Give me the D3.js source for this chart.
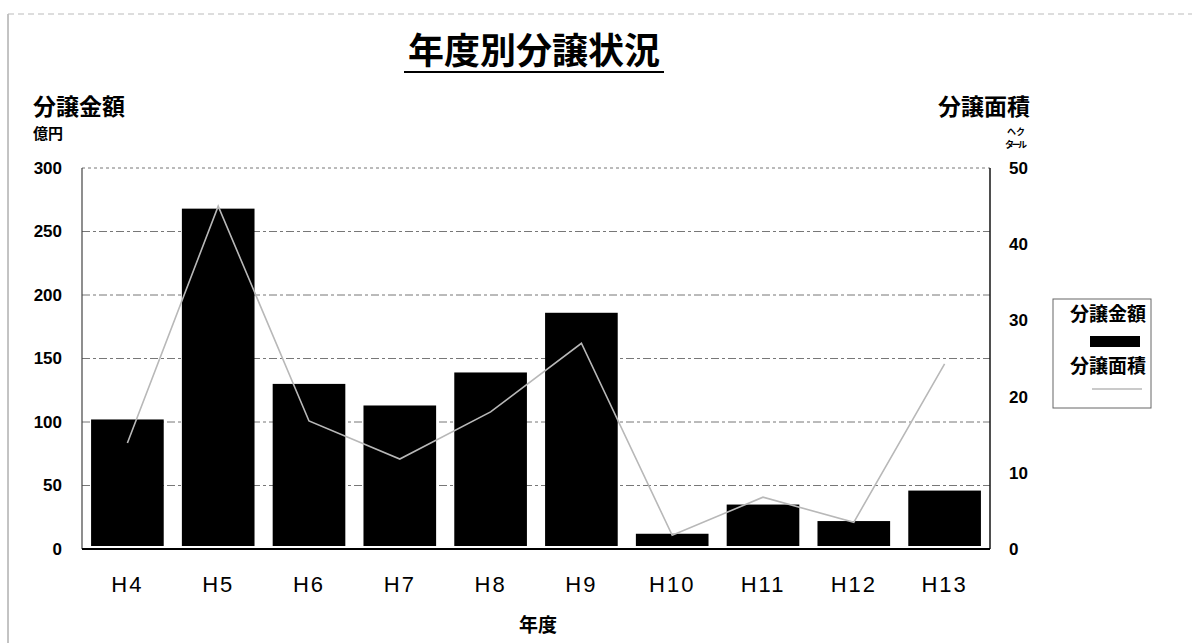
<!DOCTYPE html>
<html><head><meta charset="utf-8">
<script src="https://cdn.jsdelivr.net/npm/d3@7"></script>
<style>body{margin:0;background:#fff}svg{display:block}</style>
</head><body>
<svg id="c" width="1192" height="643"></svg>
<script>
const categories = ["H4","H5","H6","H7","H8","H9","H10","H11","H12","H13"];
const amountValues = [102, 268, 130, 113, 139, 186, 12, 35, 22, 46];   // 分譲金額 (億円)
const areaValues = [13.9, 45, 16.8, 11.8, 18, 27, 1.8, 6.8, 3.5, 24.3]; // 分譲面積 (ヘクタール)
const leftTicks = [0, 50, 100, 150, 200, 250, 300];
const rightTicks = [0, 10, 20, 30, 40, 50];

const svg = d3.select("#c");
const jp = "'Noto Sans CJK JP','Noto Sans',sans-serif";
const latin = "'Liberation Sans',Arial,sans-serif";
const L = 82, R = 990, T = 168, B = 549;

// page frame
svg.append("line").attr("x1",8).attr("x2",8).attr("y1",14).attr("y2",643).attr("stroke","#888").attr("stroke-width",1);
svg.append("line").attr("x1",8).attr("x2",1192).attr("y1",14).attr("y2",14).attr("stroke","#bbb").attr("stroke-dasharray","6,4");

const x = d3.scaleBand().domain(categories).range([L, R]).paddingInner(0.2).paddingOuter(0.1);
const yL = d3.scaleLinear().domain([0, 300]).range([B, T]);
const yR = d3.scaleLinear().domain([0, 50]).range([B, T]);

// gridlines
svg.append("g").selectAll("line").data(leftTicks.filter(d => d > 0)).join("line")
  .attr("x1", L).attr("x2", R).attr("y1", d => yL(d)).attr("y2", d => yL(d))
  .attr("stroke", "#777").attr("stroke-width", 1).attr("stroke-dasharray", d => d === 300 ? "3,3" : "8,3,3,3");

// bars
svg.append("g").selectAll("rect").data(categories).join("rect")
  .attr("x", d => x(d)).attr("width", x.bandwidth())
  .attr("y", (d, i) => yL(amountValues[i]))
  .attr("height", (d, i) => yL(0) - 3 - yL(amountValues[i]))
  .attr("fill", "#000");

// line
const line = d3.line().x((d, i) => x(categories[i]) + x.bandwidth() / 2).y(d => yR(d));
svg.append("path").datum(areaValues).attr("d", line)
  .attr("fill", "none").attr("stroke", "#b8b8b8").attr("stroke-width", 1.6);

// axes frame
svg.append("line").attr("x1", L).attr("x2", L).attr("y1", T).attr("y2", B).attr("stroke", "#444").attr("stroke-width", 1.2);
svg.append("line").attr("x1", R).attr("x2", R).attr("y1", T).attr("y2", B).attr("stroke", "#222").attr("stroke-width", 1.6);
svg.append("line").attr("x1", L).attr("x2", R).attr("y1", B).attr("y2", B).attr("stroke", "#000").attr("stroke-width", 2);

// left axis
const gl = svg.append("g").attr("transform", `translate(${L},0)`)
  .call(d3.axisLeft(yL).tickValues(leftTicks).tickSize(0).tickPadding(20));
gl.select(".domain").remove();
gl.selectAll("text").attr("font-family", latin).attr("font-weight", "bold").attr("font-size", 17).attr("fill", "#000");

// right axis
const gr = svg.append("g").attr("transform", `translate(${R},0)`)
  .call(d3.axisRight(yR).tickValues(rightTicks).tickSize(0).tickPadding(19));
gr.select(".domain").remove();
gr.selectAll("text").attr("font-family", latin).attr("font-weight", "bold").attr("font-size", 17).attr("fill", "#000");

// bottom axis
const gb = svg.append("g").attr("transform", `translate(0,${B})`)
  .call(d3.axisBottom(x).tickSize(0).tickPadding(27));
gb.select(".domain").remove();
gb.selectAll("text").attr("font-family", latin).attr("font-size", 22).attr("fill", "#000").attr("letter-spacing", "2px");

// title
svg.append("text").attr("x", 534).attr("y", 64).attr("text-anchor", "middle")
  .attr("font-family", jp).attr("font-weight", "bold").attr("font-size", 36).text("年度別分譲状況");
svg.append("line").attr("x1", 404).attr("x2", 664).attr("y1", 72).attr("y2", 72).attr("stroke", "#000").attr("stroke-width", 2);

// axis titles
svg.append("text").attr("x", 33).attr("y", 115).attr("font-family", jp).attr("font-weight", "bold").attr("font-size", 23).text("分譲金額");
svg.append("text").attr("x", 33).attr("y", 139).attr("font-family", jp).attr("font-weight", "bold").attr("font-size", 15).text("億円");
svg.append("text").attr("x", 1030).attr("y", 115).attr("text-anchor", "end").attr("font-family", jp).attr("font-weight", "bold").attr("font-size", 23).text("分譲面積");
svg.append("text").attr("x", 1016).attr("y", 135).attr("text-anchor", "middle").attr("font-family", jp).attr("font-weight", "bold").attr("font-size", 9).text("ヘク");
svg.append("text").attr("x", 1016).attr("y", 148).attr("text-anchor", "middle").attr("font-family", jp).attr("font-weight", "bold").attr("font-size", 9).attr("textLength", 22).text("タール");
svg.append("text").attr("x", 538).attr("y", 632).attr("text-anchor", "middle").attr("font-family", jp).attr("font-weight", "bold").attr("font-size", 19).text("年度");

// legend
const lg = svg.append("g");
lg.append("rect").attr("x", 1053).attr("y", 299).attr("width", 98).attr("height", 109)
  .attr("fill", "#fff").attr("stroke", "#666").attr("stroke-width", 1);
lg.append("text").attr("x", 1070).attr("y", 321).attr("font-family", jp).attr("font-weight", "bold").attr("font-size", 19).text("分譲金額");
lg.append("rect").attr("x", 1090).attr("y", 336).attr("width", 50).attr("height", 11).attr("fill", "#000");
lg.append("text").attr("x", 1070).attr("y", 373).attr("font-family", jp).attr("font-weight", "bold").attr("font-size", 19).text("分譲面積");
lg.append("line").attr("x1", 1092).attr("x2", 1142).attr("y1", 389).attr("y2", 389).attr("stroke", "#b8b8b8").attr("stroke-width", 1.6);
</script>
</body></html>
